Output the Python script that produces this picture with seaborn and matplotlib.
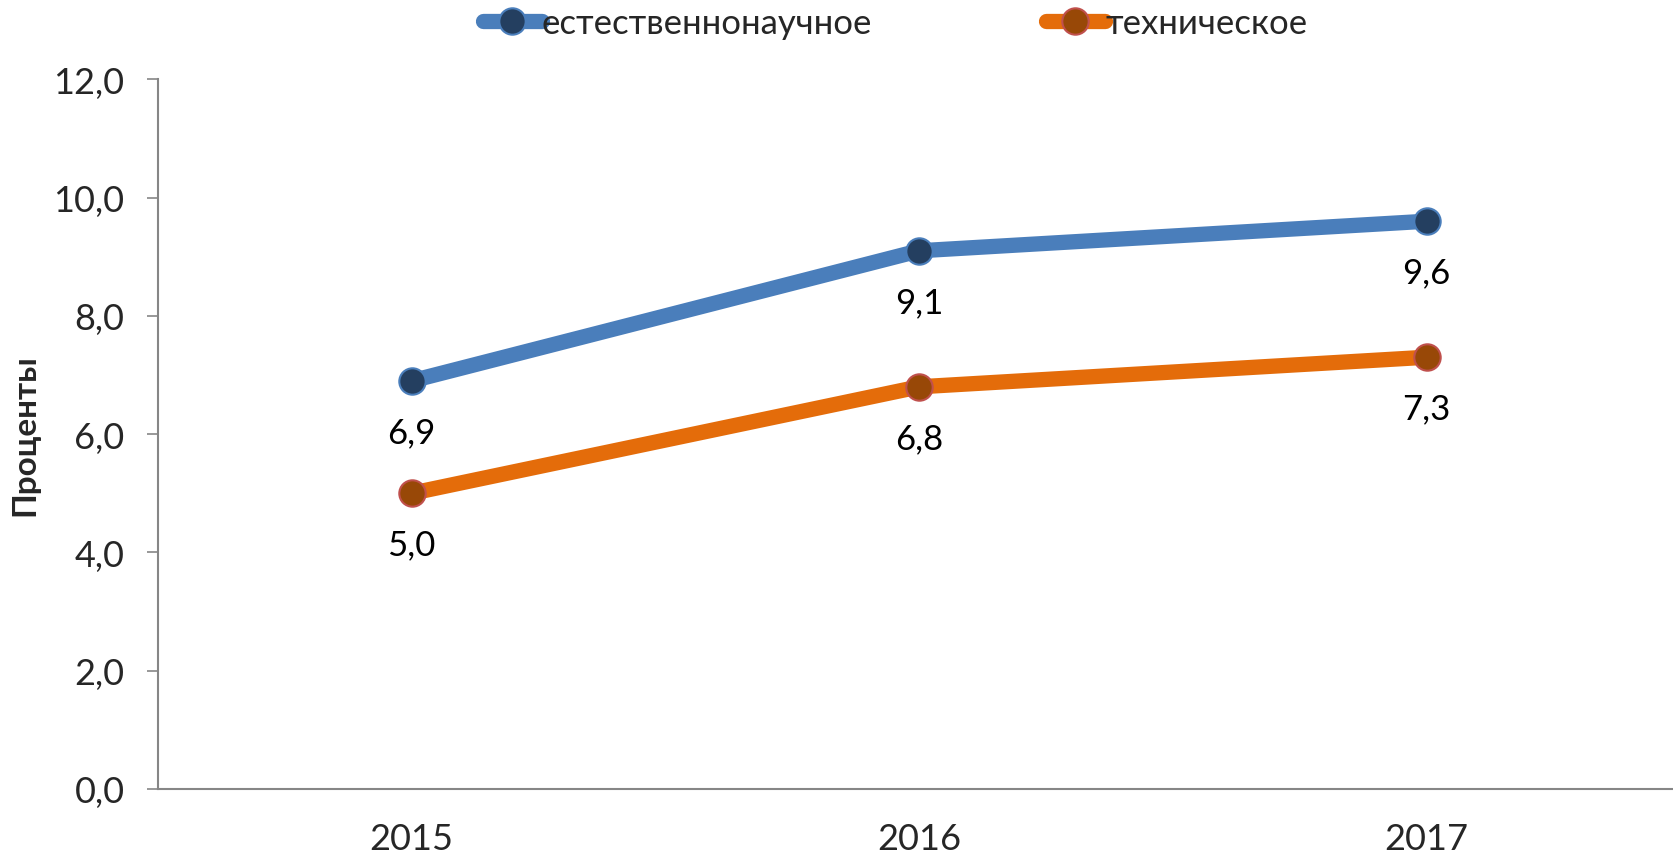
import matplotlib
matplotlib.use("Agg")
import matplotlib.pyplot as plt
import seaborn as sns
import pandas as pd
import numpy as np

years = ["2015", "2016", "2017"]
natural = [6.9, 9.1, 9.6]
technical = [5.0, 6.8, 7.3]
series_names = ["естественнонаучное", "техническое"]
y_label = "Проценты"

sns.set_theme(style="white")
plt.rcParams["font.family"] = ["Lato", "DejaVu Sans"]

fig = plt.figure(figsize=(16.73, 8.54), dpi=100)
ax = fig.add_axes([0.0944, 0.075, 0.91, 0.831])

pos = np.arange(len(years))
styles = [
    dict(color="#4a7ebb", mfc="#243f60", mec="#4a7ebb"),
    dict(color="#e46c0a", mfc="#984807", mec="#c0504d"),
]
for name, vals, st in zip(series_names, [natural, technical], styles):
    df = pd.DataFrame({"x": pos, "y": vals})
    sns.lineplot(data=df, x="x", y="y", ax=ax, color=st["color"], linewidth=11,
                 marker="o", markersize=19, markerfacecolor=st["mfc"],
                 markeredgecolor=st["mec"], markeredgewidth=1.5,
                 label=name, solid_capstyle="round", legend=False)
    for xi, v in zip(pos, vals):
        ax.annotate(f"{v:.1f}".replace(".", ","), (xi, v), xytext=(0, -37),
                    textcoords="offset points", ha="center", va="center",
                    fontsize=25, color="black")

ax.set_xlim(-0.5, 2.5)
ax.set_ylim(0, 12)
ax.set_yticks(np.arange(0, 12.1, 2))
ax.set_yticklabels([f"{v:.1f}".replace(".", ",") for v in np.arange(0, 12.1, 2)], fontsize=26)
ax.set_xticks(pos)
ax.set_xticklabels(years, fontsize=26)
ax.set_xticks([-0.5, 0.5, 1.5], minor=True)
ax.tick_params(axis="x", which="major", length=0, pad=24)
ax.tick_params(axis="x", which="minor", length=8, width=1.2, color="#868686", direction="out")
ax.tick_params(axis="y", length=8, width=1.2, color="#868686", direction="out", pad=16, left=True)
ax.set_xlabel("")
ax.set_ylabel(y_label, fontsize=24, fontweight="bold", labelpad=10)
for s in ["top", "right"]:
    ax.spines[s].set_visible(False)
for s in ["left", "bottom"]:
    ax.spines[s].set_color("#868686")
    ax.spines[s].set_linewidth(1.5)

handles, labels = ax.get_legend_handles_labels()
fig.legend(handles, labels, loc="center", bbox_to_anchor=(0.535, 0.972), ncol=2,
           frameon=False, fontsize=25, handlelength=1.7, handletextpad=0.0,
           columnspacing=5.0)

fig.savefig("out.png", dpi=100)
